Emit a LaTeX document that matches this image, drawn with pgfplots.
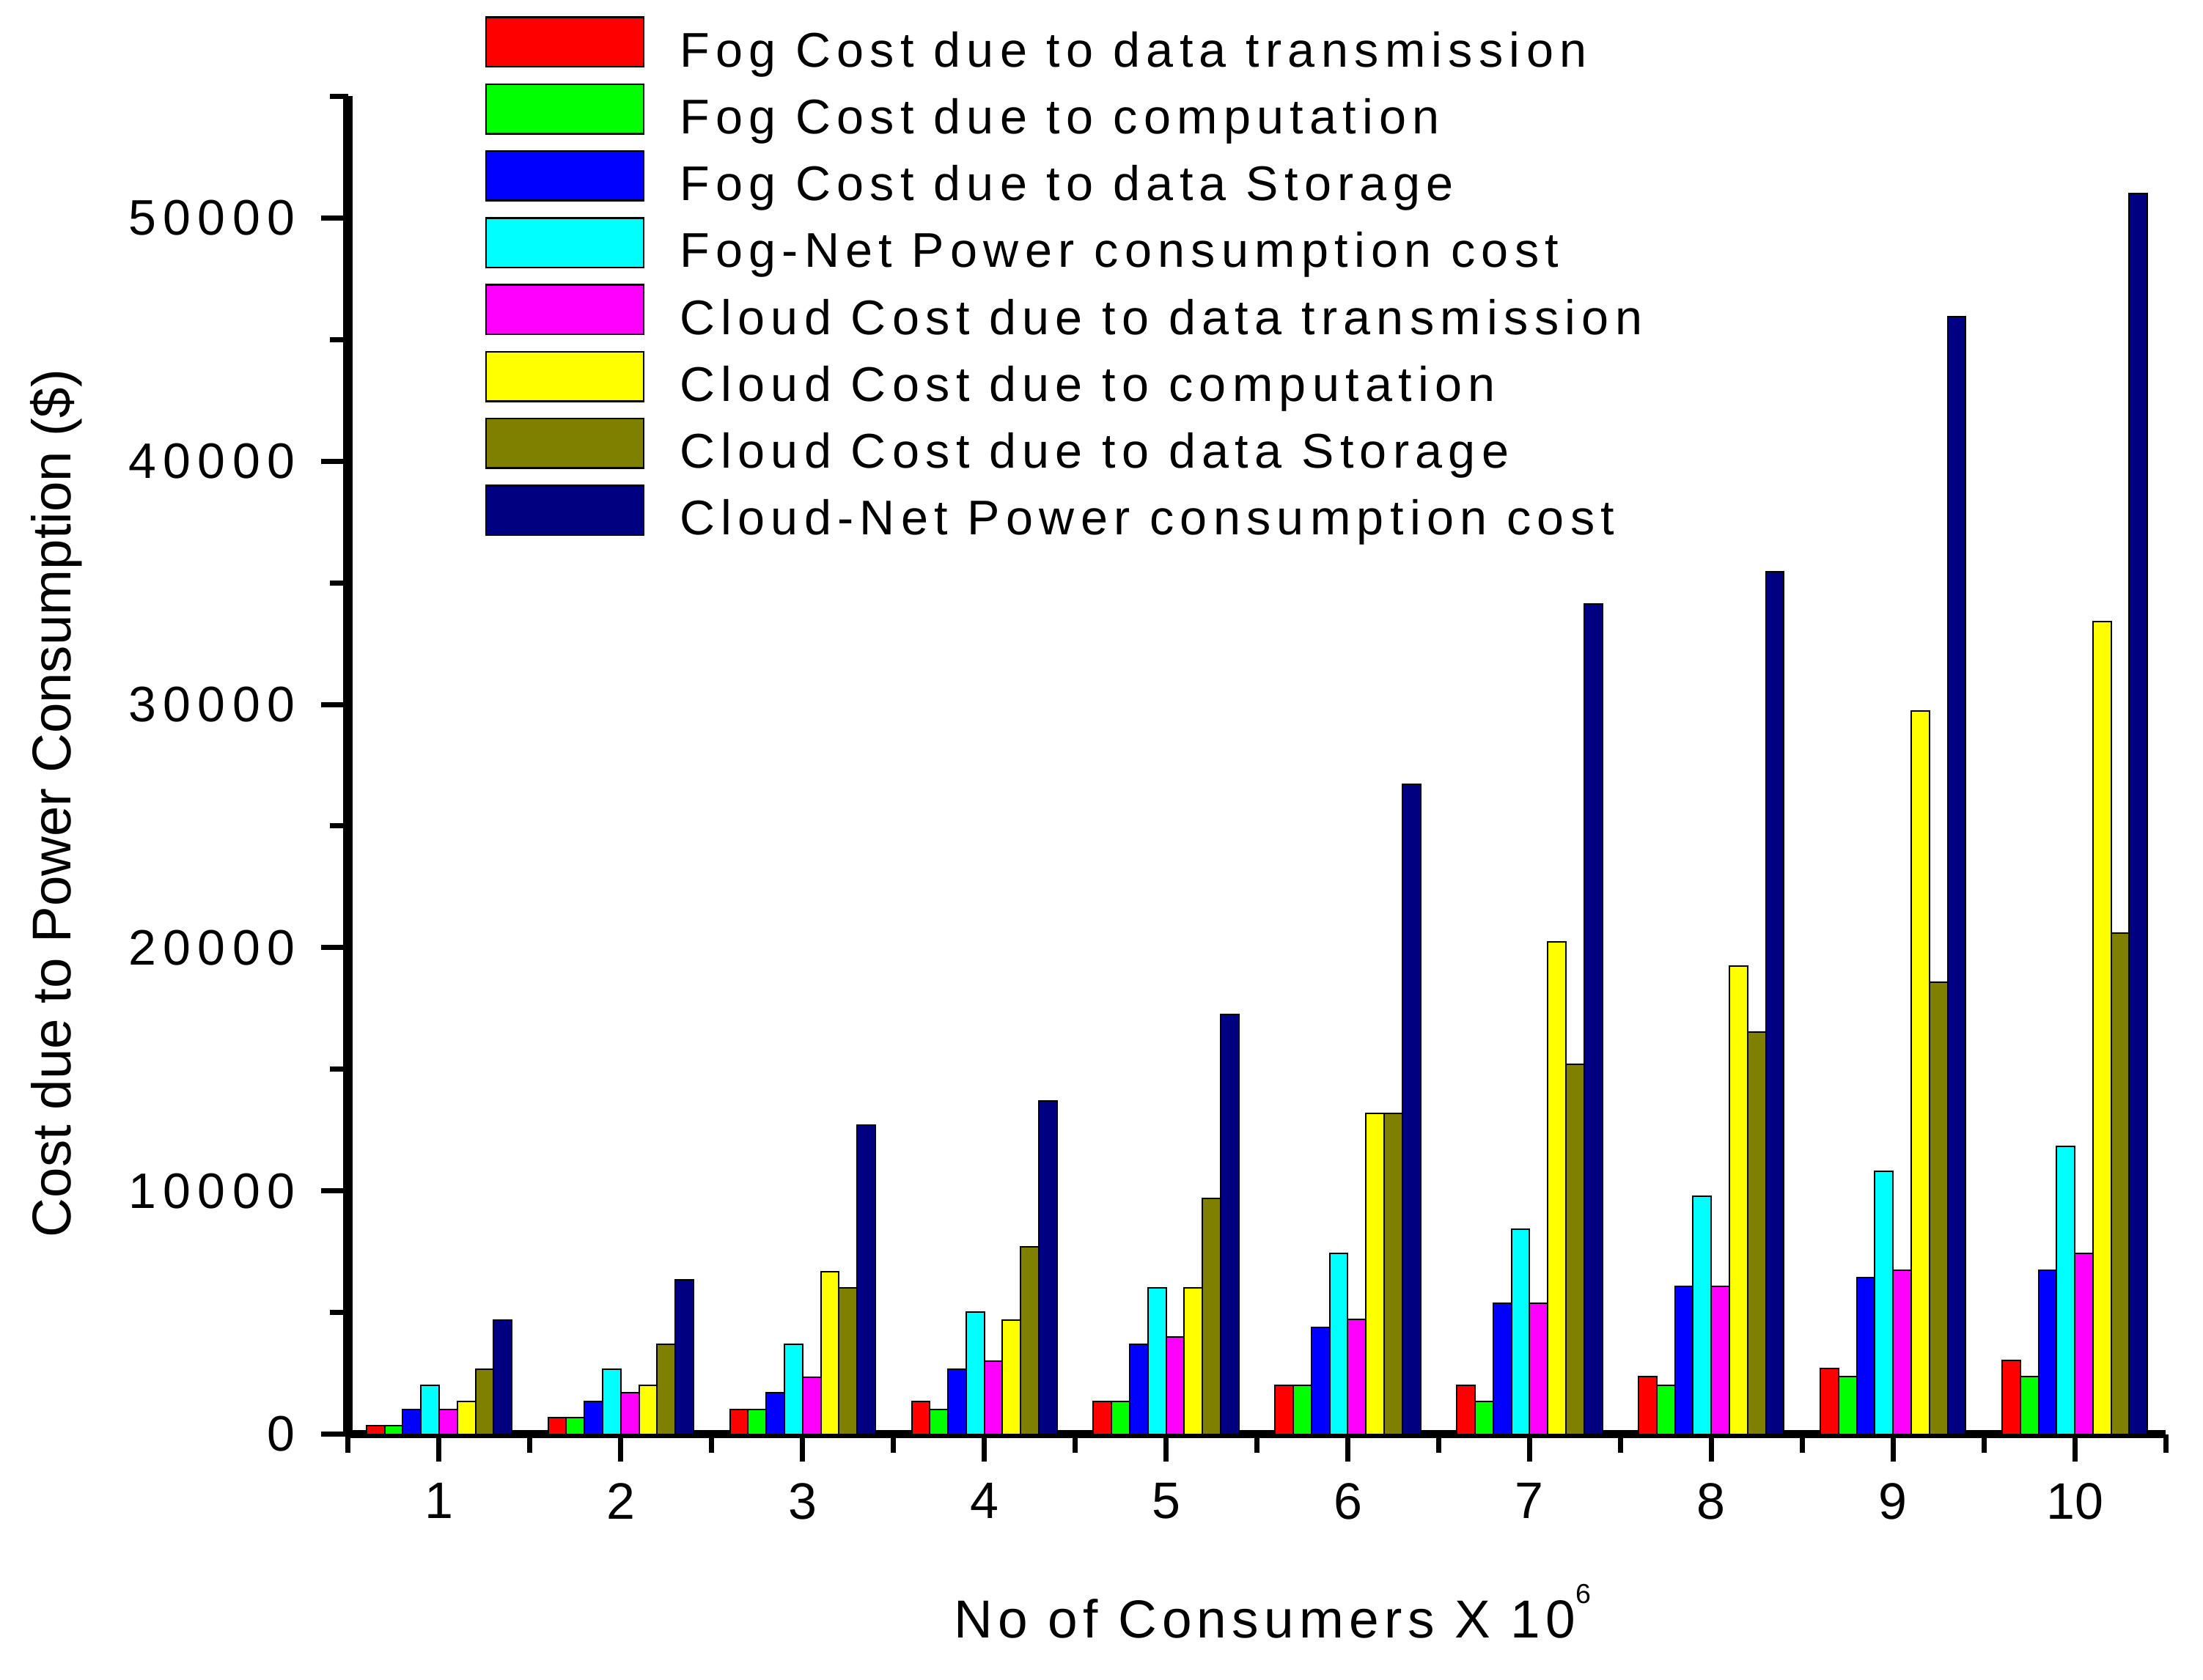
\documentclass[border=0pt]{standalone}
\usepackage{fontspec}
\setmainfont{Liberation Sans}
\usepackage{pgfplots}
\pgfplotsset{compat=1.18}
\definecolor{cRed}{RGB}{255,0,0}
\definecolor{cGreen}{RGB}{0,255,0}
\definecolor{cBlue}{RGB}{0,0,255}
\definecolor{cCyan}{RGB}{0,255,255}
\definecolor{cMagenta}{RGB}{255,0,255}
\definecolor{cYellow}{RGB}{255,255,0}
\definecolor{cOlive}{RGB}{128,128,0}
\definecolor{cNavy}{RGB}{0,0,128}
\begin{document}
\begin{tikzpicture}
\useasboundingbox (-95pt,-66.9pt) rectangle (506pt,391.3pt);
\begin{axis}[
  scale only axis, width=495.8pt, height=365pt,
  xmin=0.5, xmax=10.5, ymin=0, ymax=55000,
  axis lines=left,
  x axis line style={-, line width=2.2pt},
  y axis line style={-, line width=2.6pt},
  tick align=outside,
  major tick length=7.4pt, minor tick length=5pt,
  tick style={black, line width=1.4pt},
  xtick={1,2,3,4,5,6,7,8,9,10},
  xticklabels={1,2,3,4,5,6,7,8,9,10},
  minor xtick={0.5,1.5,2.5,3.5,4.5,5.5,6.5,7.5,8.5,9.5,10.5},
  ytick={0,10000,20000,30000,40000,50000},
  yticklabels={0,10000,20000,30000,40000,50000},
  minor ytick={5000,15000,25000,35000,45000,55000},
  scaled y ticks=false,
  yticklabel style={anchor=east, xshift=-3.6pt, font=\fontsize{13.6}{16}\selectfont\addfontfeatures{LetterSpace=14}},
  xticklabel style={yshift=-2.5pt, font=\fontsize{14}{16}\selectfont},
  ylabel={Cost due to Power Consumption (\$)},
  ylabel style={at={(axis description cs:-0.1605,0.4715)}, anchor=center, font=\fontsize{14.9}{17}\selectfont},
  xlabel={No of Consumers X 10\raisebox{9.4pt}{\fontsize{7.5}{8}\selectfont 6}},
  xlabel style={at={(axis description cs:0.5085,-0.1525)}, anchor=base, font=\fontsize{14.6}{17}\selectfont\addfontfeatures{LetterSpace=10}},
  ybar=0pt, bar width=0.1,
  legend image code/.code={\draw[#1, line width=0.5pt] (0pt,0pt) rectangle (43pt,13.5pt); \path (52.6pt,0pt);},
  legend cell align=left,
  legend style={at={(0.075,1.0603)}, anchor=north west, draw=none, fill=none, inner sep=0pt,
    font=\fontsize{13.3}{15}\selectfont\addfontfeatures{LetterSpace=12.5},
    row sep=1.5pt, cells={anchor=base west}, nodes={inner sep=0pt, text depth=3pt}},
  every axis plot/.append style={draw=black, line width=0.4pt},
]
\addplot[fill=cRed] coordinates {(1,340) (2,667) (3,1000) (4,1330) (5,1330) (6,2010) (7,2010) (8,2360) (9,2690) (10,3030)};
\addplot[fill=cGreen] coordinates {(1,340) (2,667) (3,1000) (4,1000) (5,1330) (6,2010) (7,1335) (8,2010) (9,2360) (10,2360)};
\addplot[fill=cBlue] coordinates {(1,1000) (2,1330) (3,1690) (4,2670) (5,3690) (6,4390) (7,5390) (8,6070) (9,6420) (10,6750)};
\addplot[fill=cCyan] coordinates {(1,2010) (2,2670) (3,3690) (4,5020) (5,6020) (6,7420) (7,8430) (8,9780) (9,10800) (10,11830)};
\addplot[fill=cMagenta] coordinates {(1,1000) (2,1690) (3,2340) (4,3000) (5,4000) (6,4720) (7,5390) (8,6070) (9,6750) (10,7420)};
\addplot[fill=cYellow] coordinates {(1,1330) (2,2010) (3,6670) (4,4690) (5,6020) (6,13180) (7,20250) (8,19245) (9,29730) (10,33420)};
\addplot[fill=cOlive] coordinates {(1,2670) (2,3690) (3,6020) (4,7690) (5,9690) (6,13180) (7,15190) (8,16540) (9,18570) (10,20610)};
\addplot[fill=cNavy] coordinates {(1,4690) (2,6350) (3,12710) (4,13700) (5,17240) (6,26705) (7,34117) (8,35446) (9,45938) (10,51021)};
\legend{Fog Cost due to data transmission, Fog Cost due to computation, Fog Cost due to data Storage, Fog-Net Power consumption cost, Cloud Cost due to data transmission, Cloud Cost due to computation, Cloud Cost due to data Storage, Cloud-Net Power consumption cost}
\end{axis}
\end{tikzpicture}
\end{document}
